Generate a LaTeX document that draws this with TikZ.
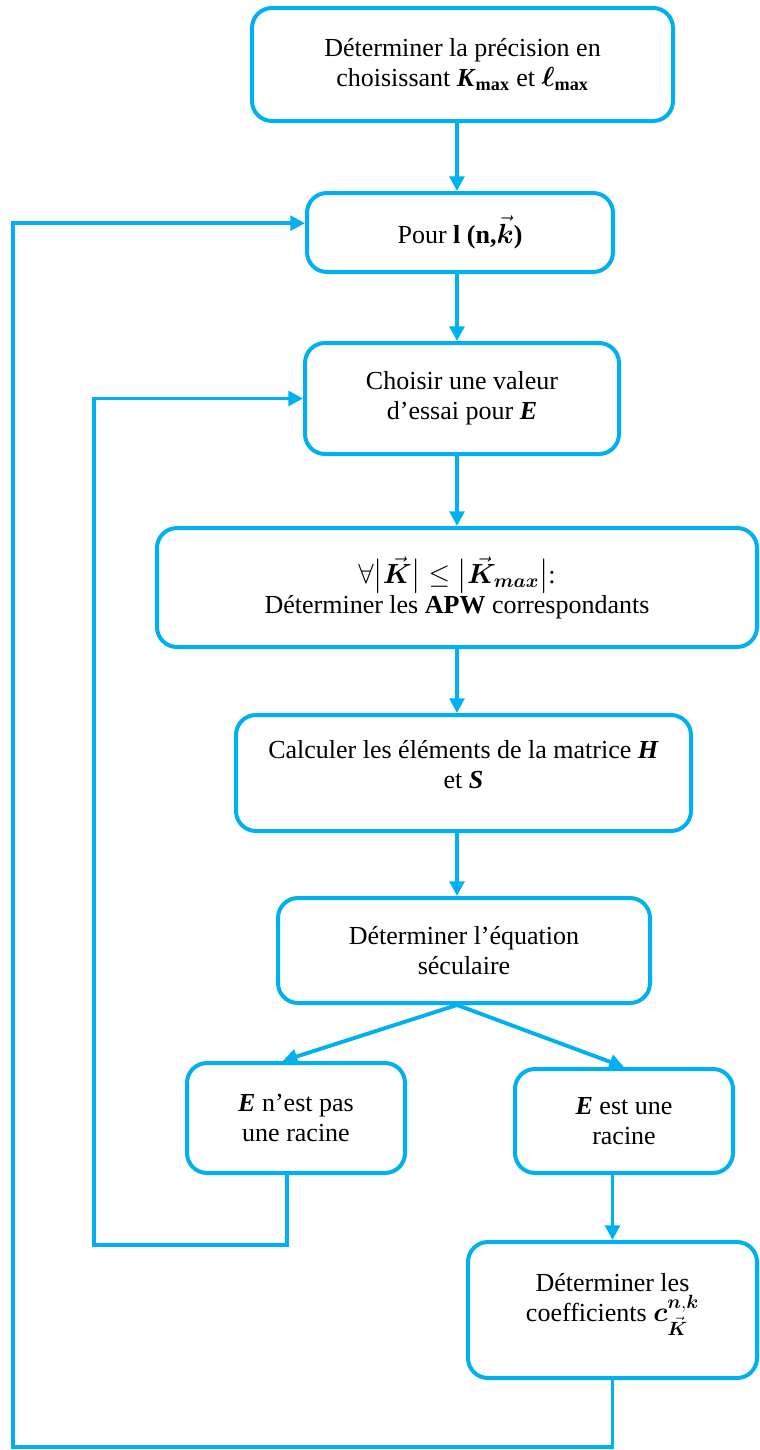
\documentclass[tikz,border=0pt]{standalone}
\usepackage{amsmath,bm}
\usepackage{fontspec}
\setmainfont{Liberation Serif}
\usetikzlibrary{arrows.meta}

\definecolor{flowblue}{RGB}{0,176,240}
\newcommand{\bi}[1]{\textbf{\textit{#1}}}

\tikzset{every picture/.style={line width=0.75pt}}
\tikzset{
  etape/.style={draw=flowblue, line width=3pt, rounded corners=15pt, fill=white,
    align=center, font=\fontsize{19.5}{22.5}\selectfont},
  flux/.style={draw=flowblue, line width=2.9pt, -{Triangle[length=11pt,width=11pt]}}
}

\begin{document}
\begin{tikzpicture}[x=0.75pt,y=0.75pt,yscale=-1,xscale=1]
	\useasboundingbox (0,0) rectangle (760,1450);

	%Shape: Rounded Rect
	\node[etape, minimum width=315.75pt, minimum height=84.75pt] (prec) at (462.5,64.5)
	  {Déterminer la précision en\\choisissant \bi{K}\textsubscript{\textbf{max}} et $\bm{\ell}_{\mathbf{max}}$};
	%Shape: Rounded Rect
	\node[etape, minimum width=229.5pt, minimum height=59.25pt] (pour) at (460,232.5)
	  {Pour \textbf{l (n,}$\vec{\bm{k}}$\textbf{)}};
	%Shape: Rounded Rect
	\node[etape, minimum width=235.5pt, minimum height=83.25pt] (choix) at (462,398.5)
	  {Choisir une valeur\\d’essai pour \bi{E}};
	%Shape: Rounded Rect
	\node[etape, minimum width=450pt, minimum height=89.25pt] (apw) at (457,587.5)
	  {$\forall\bigl|\vec{\bm{K}}\bigr| \leq \bigl|\vec{\bm{K}}_{\bm{max}}\bigr|$:\\Déterminer les \textbf{APW} correspondants};
	%Shape: Rounded Rect
	\node[etape, minimum width=341.25pt, minimum height=87pt] (calc) at (463.5,773)
	  {Calculer les éléments de la matrice \bi{H}\\et \bi{S}\\[-10pt]~};
	%Shape: Rounded Rect
	\node[etape, minimum width=279pt, minimum height=78.75pt] (secu) at (464,950.5)
	  {Déterminer l’équation\\séculaire};
	%Shape: Rounded Rect
	\node[etape, minimum width=163.5pt, minimum height=82.5pt] (nonrac) at (296,1118)
	  {\bi{E} n’est pas\\une racine};
	%Shape: Rounded Rect
	\node[etape, minimum width=163.5pt, minimum height=78pt] (rac) at (624,1121)
	  {\bi{E} est une\\racine};
	%Shape: Rounded Rect
	\node[etape, minimum width=216.75pt, minimum height=102pt] (coef) at (612.5,1310)
	  {Déterminer les\\coefficients $\bm{c}^{\bm{n},\bm{k}}_{\vec{\bm{K}}}$\\[-4pt]~};

	% axis of the main column and corners of the two loops
	\coordinate (axe) at (457,0);
	\coordinate (boucleE) at (94,1245);
	\coordinate (boucleK) at (13,1447);

	%Straight Lines
	\draw[flux] (prec.south -| axe) -- (pour.north -| axe);
	\draw[flux] (pour.south -| axe) -- (choix.north -| axe);
	\draw[flux] (choix.south -| axe) -- (apw.north -| axe);
	\draw[flux] (apw.south -| axe) -- (calc.north -| axe);
	\draw[flux] (calc.south -| axe) -- (secu.north -| axe);
	\draw[flux] (secu.south -| axe) -- ([xshift=-10pt]nonrac.north);
	\draw[flux] (secu.south -| axe) -- (rac.north);
	\draw[flux] (rac.south -| coef) -- (coef.north);

	%Straight Lines: back to the trial value of E
	\draw[flux] ([xshift=-7pt]nonrac.south) |- (boucleE) |- (choix.west);
	%Straight Lines: next (n,k)
	\draw[flux] (coef.south) |- (boucleK) |- ([yshift=-7pt]pour.west);

\end{tikzpicture}
\end{document}
